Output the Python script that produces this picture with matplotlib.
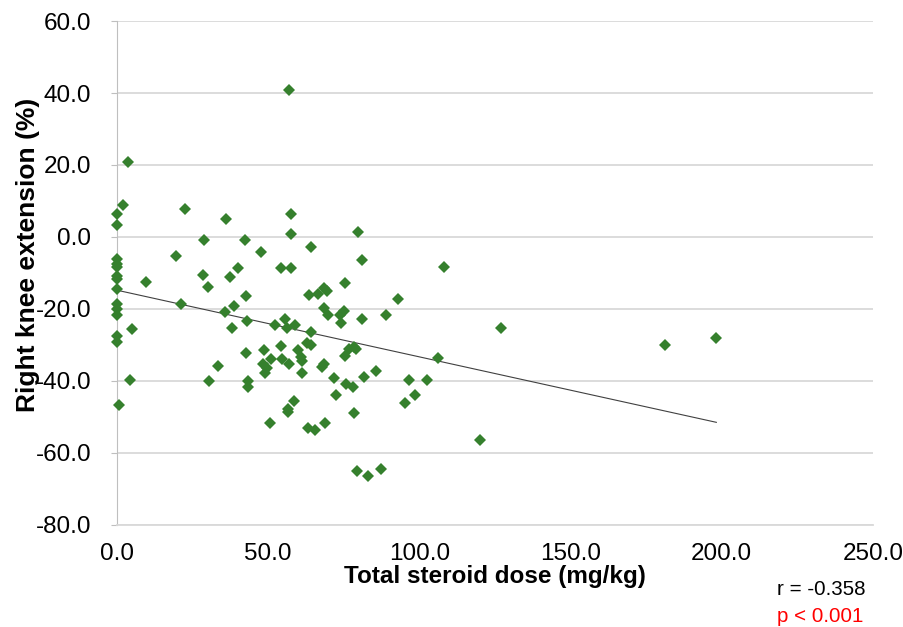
import numpy as np
import matplotlib.pyplot as plt

plt.rcParams['font.family'] = ['Liberation Sans', 'DejaVu Sans']

# Total steroid dose (mg/kg) vs right knee extension change (%)
dose = [
    0.0, 0.0, 0.0, 0.0, 0.0, 0.0, 0.0, 0.0, 0.0, 0.0, 0.0, 0.0, 0.0, 0.6,
    3.8, 1.9, 9.7, 5.1, 4.2,
    22.5, 19.6, 21.3, 28.8, 28.6, 30.1, 30.5, 33.5,
    36.2, 35.8, 37.5, 38.1, 38.8, 40.0,
    42.3, 42.7, 43.0, 42.8, 43.2, 43.2,
    47.6, 48.7, 48.2, 49.1, 49.7, 50.5, 51.0, 52.2,
    54.3, 54.3, 54.6, 55.4, 56.2, 56.9, 56.9, 56.5, 56.7,
    57.7, 57.7, 57.7, 58.5, 59.0, 60.0, 60.9, 61.1, 61.1,
    62.8, 63.2, 63.4, 64.0, 64.0, 64.0, 65.5, 66.5,
    67.8, 68.4, 68.5, 68.5, 68.7, 69.5, 69.9,
    71.6, 72.5, 73.7, 74.1, 75.0, 75.4, 75.4, 75.8, 76.7,
    78.1, 78.3, 78.3, 79.0, 79.4, 79.8, 81.1, 81.1, 81.7,
    83.0, 85.7, 87.4, 89.1, 92.9, 95.2, 96.7, 98.4,
    102.6, 106.2, 108.3, 120.0, 127.0, 181.3, 198.2,
]
knee_ext = [
    6.5, 3.2, -6.0, -7.5, -8.2, -10.8, -11.6, -14.5, -18.5, -20.0, -21.8, -27.5, -29.3, -46.8,
    20.9, 8.8, -12.5, -25.6, -39.8,
    7.8, -5.2, -18.6, -0.8, -10.6, -13.9, -40.1, -35.7,
    5.0, -20.8, -11.1, -25.3, -19.3, -8.6,
    -0.7, -16.5, -23.4, -32.3, -40.1, -41.6,
    -4.2, -31.5, -35.4, -37.9, -36.4, -51.6, -34.0, -24.5,
    -8.6, -30.4, -33.8, -22.8, -25.3, 40.7, -35.3, -47.9, -48.7,
    6.5, 0.8, -8.7, -45.5, -24.5, -31.4, -33.4, -34.5, -37.9,
    -29.5, -53.1, -16.2, -2.8, -26.4, -30.1, -53.7, -15.9,
    -36.2, -19.8, -14.2, -35.3, -51.6, -15.0, -21.7,
    -39.3, -43.8, -21.7, -24.0, -20.6, -12.8, -33.1, -40.9, -31.2,
    -41.8, -30.6, -49.0, -31.2, -65.0, 1.4, -6.4, -22.8, -39.0,
    -66.3, -37.1, -64.4, -21.8, -17.3, -46.0, -39.6, -44.0,
    -39.6, -33.5, -8.4, -56.4, -25.3, -30.0, -28.0,
]

x = np.array(dose)
y = np.array(knee_ext)

# least squares trend line over the dose range
slope, intercept = np.polyfit(x, y, 1)
xfit = np.array([x.min(), x.max()])
yfit = slope * xfit + intercept

fig = plt.figure(figsize=(9.04, 6.27), dpi=100)
ax = fig.add_axes([0.1294, 0.1627, 0.8363, 0.8038])

ax.set_axisbelow(True)
ax.grid(axis='y', color='#d9d9d9', linewidth=1.3)
ax.plot(xfit, yfit, color='#404040', linewidth=0.8, zorder=2)
ax.plot(x, y, linestyle='none', marker='D', markersize=6,
        color='#35802d', markeredgewidth=0, zorder=3, clip_on=False)

ax.set_xlim(0, 250)
ax.set_ylim(-80, 60)
ax.set_xticks(np.arange(0, 251, 50))
ax.set_yticks(np.arange(-80, 61, 20))
ax.set_xticklabels(['%.1f' % v for v in np.arange(0, 251, 50)])
ax.set_yticklabels(['%.1f' % v for v in np.arange(-80, 61, 20)])
ax.tick_params(axis='y', length=4.5, color='#bfbfbf', labelsize=17.5, pad=14)
ax.tick_params(axis='x', length=0, labelsize=17.5, pad=13)

for s in ['top', 'right']:
    ax.spines[s].set_visible(False)
ax.spines['left'].set_color('#bfbfbf')
ax.spines['bottom'].set_color('#d9d9d9')
ax.spines['bottom'].set_linewidth(1.3)

ax.set_xlabel('Total steroid dose (mg/kg)', fontsize=17.5, fontweight='bold', labelpad=0)
ax.set_ylabel('Right knee extension (%)', fontsize=19, fontweight='bold')
ax.yaxis.set_label_coords(-0.102, 0.536)

fig.text(0.859, 0.060, 'r = -0.358', fontsize=14.8, ha='left', va='center')
fig.text(0.859, 0.016, 'p < 0.001', fontsize=14.8, ha='left', va='center', color='red')

fig.savefig('out.png', dpi=100)
